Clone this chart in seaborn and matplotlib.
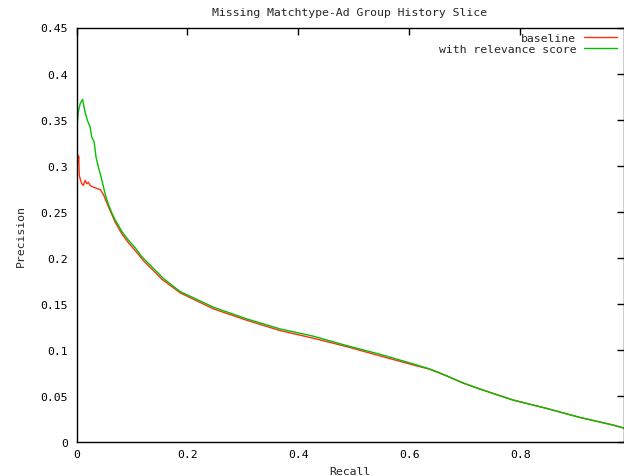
import matplotlib
matplotlib.use("Agg")
import matplotlib.pyplot as plt
import seaborn as sns
import pandas as pd

title = "Missing Matchtype-Ad Group History Slice"
series_names = ["baseline", "with relevance score"]

recall_baseline = [0, 0.0005, 0.001, 0.0015, 0.002, 0.003, 0.004, 0.005, 0.007, 0.0095,
                   0.0124, 0.0155, 0.0185, 0.0215, 0.0245, 0.029, 0.0335, 0.038, 0.0432,
                   0.0492, 0.0582, 0.0703, 0.0823, 0.0942, 0.1063, 0.1213, 0.1364, 0.1544,
                   0.1867, 0.2467, 0.3068, 0.3668, 0.4268, 0.487, 0.547, 0.607, 0.637,
                   0.667, 0.697, 0.727, 0.787, 0.847, 0.907, 0.967, 0.9865]
precision_baseline = [0.32, 0.288, 0.318, 0.30, 0.312, 0.305, 0.31, 0.2895, 0.285, 0.2804,
                      0.2786, 0.284, 0.2804, 0.282, 0.2786, 0.277, 0.276, 0.275, 0.274,
                      0.2677, 0.2545, 0.238, 0.2255, 0.216, 0.2075, 0.1965, 0.1875, 0.1765,
                      0.162, 0.1446, 0.1322, 0.121, 0.1127, 0.1036, 0.0935, 0.0837, 0.079,
                      0.0718, 0.0641, 0.0576, 0.0456, 0.0366, 0.0268, 0.0185, 0.0152]

recall_relevance = [0, 0.001, 0.002, 0.003, 0.0065, 0.009, 0.011, 0.0125, 0.0155, 0.0197,
                    0.0245, 0.0275, 0.0317, 0.0353, 0.0395, 0.045, 0.0523, 0.0582, 0.0643,
                    0.0703, 0.0823, 0.0942, 0.1063, 0.1184, 0.1364, 0.1573, 0.1867, 0.2467,
                    0.3068, 0.3668, 0.4268, 0.487, 0.547, 0.607, 0.637, 0.667, 0.697, 0.727,
                    0.787, 0.847, 0.907, 0.967, 0.9865]
precision_relevance = [0.32, 0.345, 0.349, 0.358, 0.367, 0.370, 0.372, 0.367, 0.358, 0.349,
                       0.342, 0.331, 0.326, 0.309, 0.2986, 0.286, 0.2677, 0.2569, 0.2478,
                       0.2406, 0.228, 0.2188, 0.2105, 0.2007, 0.1899, 0.1772, 0.1634, 0.1464,
                       0.1337, 0.1228, 0.1149, 0.1047, 0.0953, 0.0848, 0.0793, 0.0721, 0.0641,
                       0.0576, 0.0456, 0.0366, 0.0268, 0.0185, 0.0152]

x_ticks = [0, 0.2, 0.4, 0.6, 0.8]
x_ticklabels = ["0", "0.2", "0.4", "0.6", "0.8"]
y_ticks = [0, 0.05, 0.1, 0.15, 0.2, 0.25, 0.3, 0.35, 0.4, 0.45]
y_ticklabels = ["0", "0.05", "0.1", "0.15", "0.2", "0.25", "0.3", "0.35", "0.4", "0.45"]

df = pd.concat([
    pd.DataFrame({"Recall": recall_baseline, "Precision": precision_baseline, "series": series_names[0]}),
    pd.DataFrame({"Recall": recall_relevance, "Precision": precision_relevance, "series": series_names[1]}),
], ignore_index=True)

sns.set_style("white")
plt.rcParams["font.family"] = ["DejaVu Sans Mono", "DejaVu Sans"]
FS = 8.25

fig = plt.figure(figsize=(6.24, 4.77), dpi=100)
ax = fig.add_axes([76.5 / 624, (477 - 443) / 477, (623.5 - 76.5) / 624, (443 - 28.5) / 477])

palette = {series_names[0]: "#ff3010", series_names[1]: "#00c000"}
sns.lineplot(data=df, x="Recall", y="Precision", hue="series", palette=palette,
             sort=False, estimator=None, linewidth=1.0, ax=ax, legend=True)

ax.set_xlim(0, 0.9865)
ax.set_ylim(0, 0.45)
ax.set_xticks(x_ticks)
ax.set_xticklabels(x_ticklabels)
ax.set_yticks(y_ticks)
ax.set_yticklabels(y_ticklabels)
ax.tick_params(direction="in", top=True, right=True, length=5, width=1,
               color="black", labelsize=FS, labelcolor="black")
ax.tick_params(axis="y", pad=6)
ax.tick_params(axis="x", pad=5)
for s in ax.spines.values():
    s.set_visible(True)
    s.set_color("black")
    s.set_linewidth(1)

ax.set_xlabel("Recall", fontsize=FS, labelpad=5)
ax.set_ylabel("Precision", fontsize=FS, labelpad=10.5)
ax.set_title(title, fontsize=FS, pad=9)

handles, labels = ax.get_legend_handles_labels()
leg = ax.legend(handles, labels, loc="upper right", bbox_to_anchor=(617 / 624, 1 - 34 / 477),
                bbox_transform=fig.transFigure, frameon=False, markerfirst=False,
                fontsize=FS, handlelength=2.9, handletextpad=0.65, labelspacing=0.1,
                borderpad=0, borderaxespad=0)

fig.savefig("out.png", dpi=100)
